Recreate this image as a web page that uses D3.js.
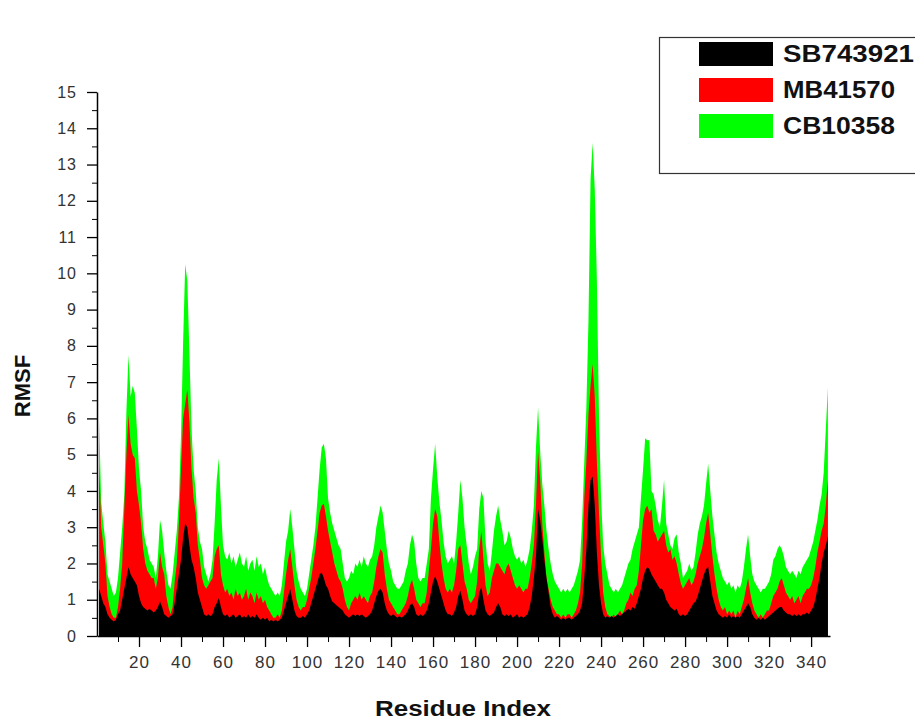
<!DOCTYPE html>
<html>
<head>
<meta charset="utf-8">
<script src="https://cdn.jsdelivr.net/npm/d3@7/dist/d3.min.js"></script>
<style>
  body { margin: 0; background: #fff; }
  #chart { width: 915px; height: 722px; }
</style>
</head>
<body>
<div id="chart"></div>
<script>
// --- 1. 数据：每个残基的 RMSF ---
const seriesNames = ["SB743921", "MB41570", "CB10358"];
const seriesColors = ["#000000", "#ff0000", "#00ff00"];

const sb743921 = [
  1.3,1.1,0.9,0.8,0.6,0.5,0.45,0.4,0.45,0.6,
  0.7,1.0,1.3,1.6,1.9,1.7,1.6,1.5,1.4,1.1,
  0.9,0.8,0.75,0.7,0.75,0.7,0.65,0.7,0.8,0.95,
  0.8,0.6,0.55,0.5,0.55,0.6,0.9,1.3,1.7,2.1,
  2.7,3.1,3.0,2.5,2.1,1.9,1.6,1.2,1.0,0.8,
  0.6,0.55,0.6,0.55,0.6,0.8,0.9,1.05,0.8,0.6,
  0.55,0.6,0.5,0.55,0.6,0.5,0.55,0.6,0.5,0.55,
  0.5,0.6,0.5,0.55,0.5,0.6,0.5,0.45,0.5,0.45,
  0.5,0.4,0.45,0.4,0.45,0.4,0.45,0.5,0.7,0.9,
  1.1,1.3,1.0,0.7,0.55,0.5,0.5,0.55,0.5,0.6,
  0.7,0.9,1.1,1.3,1.5,1.7,1.75,1.6,1.4,1.3,
  1.1,0.95,0.9,0.85,0.8,0.75,0.7,0.6,0.55,0.5,
  0.55,0.6,0.55,0.6,0.55,0.6,0.55,0.5,0.55,0.6,
  0.7,0.9,1.1,1.25,1.3,1.2,0.9,0.7,0.6,0.55,
  0.6,0.55,0.5,0.55,0.5,0.55,0.6,0.7,0.85,0.9,
  0.8,0.6,0.55,0.6,0.55,0.6,0.7,0.9,1.2,1.5,
  1.65,1.5,1.3,1.1,0.9,0.7,0.6,0.6,0.55,0.65,
  0.8,1.1,1.25,1.0,0.7,0.6,0.55,0.6,0.55,0.6,
  0.8,1.2,1.35,1.0,0.7,0.6,0.55,0.6,0.65,0.8,
  0.9,0.8,0.6,0.55,0.6,0.55,0.6,0.5,0.55,0.6,
  0.5,0.55,0.5,0.55,0.6,0.8,1.1,1.6,2.2,3.5,
  3.2,2.7,2.1,1.6,1.2,0.8,0.6,0.5,0.55,0.5,
  0.45,0.5,0.45,0.5,0.5,0.45,0.5,0.55,0.6,0.7,
  0.9,1.6,2.4,3.6,4.3,4.4,3.6,2.3,1.4,0.9,
  0.6,0.5,0.55,0.5,0.55,0.5,0.55,0.6,0.55,0.6,
  0.65,0.7,0.75,0.7,0.8,0.75,0.9,1.1,1.3,1.6,
  1.8,1.9,1.85,1.7,1.6,1.5,1.4,1.3,1.3,1.2,
  1.0,0.9,0.8,0.75,0.7,0.75,0.6,0.55,0.6,0.55,
  0.6,0.7,0.8,0.9,0.95,1.1,1.3,1.5,1.7,1.85,
  1.9,1.5,1.1,0.9,0.7,0.6,0.55,0.5,0.55,0.5,
  0.6,0.5,0.55,0.5,0.55,0.5,0.6,0.7,0.8,0.9,
  0.8,0.6,0.5,0.45,0.5,0.45,0.5,0.45,0.5,0.55,
  0.6,0.65,0.7,0.75,0.8,0.8,0.7,0.65,0.6,0.6,
  0.55,0.6,0.55,0.6,0.55,0.6,0.6,0.65,0.6,0.7,
  0.8,1.0,1.3,1.6,2.0,2.3,2.5,2.75
];

const mb41570 = [
  4.75,3.0,2.5,2.0,1.1,0.8,0.6,0.5,0.5,0.8,
  1.3,2.0,3.5,5.0,6.1,5.3,5.0,4.9,4.0,3.6,
  3.1,2.4,2.0,1.8,1.7,1.6,1.6,1.3,1.6,2.3,
  1.9,1.7,1.1,0.8,0.6,0.8,1.5,2.0,3.1,4.6,
  6.0,6.4,6.8,5.9,4.6,3.8,3.4,2.5,2.1,1.6,
  1.4,1.3,1.4,1.5,1.6,2.2,2.4,2.5,1.7,1.4,
  1.2,1.3,1.1,1.2,1.0,1.3,1.1,1.2,1.0,1.1,
  1.3,1.0,1.2,1.1,0.9,1.2,1.0,1.1,0.9,1.0,
  0.8,0.7,0.6,0.5,0.5,0.6,0.5,0.7,1.2,1.7,
  2.1,2.4,1.9,1.4,1.0,0.8,0.7,0.8,0.8,1.0,
  1.3,1.6,2.0,2.4,2.9,3.4,3.6,3.65,3.3,2.9,
  2.6,2.3,2.0,1.8,1.6,1.5,1.3,1.0,0.8,0.7,
  0.9,1.0,1.1,1.0,1.2,1.0,1.1,1.0,0.9,1.1,
  1.2,1.5,1.9,2.2,2.4,2.3,1.7,1.3,1.0,0.9,
  0.8,0.7,0.6,0.6,0.7,0.8,0.9,1.1,1.4,1.55,
  1.3,1.0,0.9,0.8,0.9,0.9,1.2,1.8,2.4,3.1,
  3.5,3.3,2.6,2.0,1.6,1.3,1.2,1.3,1.2,1.4,
  1.8,2.4,2.5,2.0,1.5,1.3,1.0,0.9,1.0,1.1,
  1.5,2.4,2.9,2.1,1.4,1.1,1.2,1.6,1.8,2.0,
  2.0,1.9,1.8,1.7,1.9,2.0,1.8,1.6,1.4,1.3,
  1.4,1.3,1.2,1.3,1.3,1.6,2.0,2.5,3.6,5.1,
  4.3,3.1,2.3,1.6,1.3,1.0,0.8,0.7,0.6,0.6,
  0.5,0.6,0.5,0.6,0.6,0.5,0.6,0.7,0.9,1.2,
  2.0,3.8,4.8,6.1,6.9,7.5,6.6,4.8,3.4,2.2,
  1.2,0.8,0.6,0.55,0.5,0.6,0.5,0.6,0.7,0.6,
  0.7,0.9,1.0,1.2,1.1,1.3,1.4,1.8,2.5,3.2,
  3.5,3.6,3.4,3.5,2.9,2.8,2.6,2.7,2.8,2.9,
  2.5,2.3,2.4,2.1,2.2,2.0,1.7,1.45,1.3,1.4,
  1.5,1.6,1.4,1.5,1.7,2.0,2.2,2.4,2.7,3.1,
  3.4,2.8,2.2,1.7,1.3,1.0,0.8,0.7,0.8,0.6,
  0.7,0.6,0.7,0.5,0.7,0.6,0.8,1.0,1.3,1.6,
  1.2,0.9,0.7,0.6,0.5,0.6,0.5,0.6,0.7,0.7,
  0.9,1.1,1.2,1.3,1.5,1.6,1.4,1.2,1.1,1.0,
  1.1,0.9,1.0,1.1,0.9,1.1,1.2,1.3,1.3,1.4,
  1.6,1.9,2.3,2.6,2.9,3.1,3.6,4.3
];

const cb10358 = [
  6.0,3.7,3.1,2.6,1.7,1.5,1.3,1.1,1.2,1.6,
  2.3,3.0,3.9,6.2,7.75,6.6,6.9,6.7,5.7,4.6,
  4.0,3.0,2.6,2.4,2.1,2.0,1.9,1.6,2.2,3.2,
  2.9,2.3,1.8,1.4,1.3,1.7,2.3,2.9,3.8,5.5,
  8.1,10.25,9.8,7.8,5.7,4.6,4.0,3.0,2.6,2.4,
  1.9,1.7,1.5,1.7,2.1,3.1,4.3,4.9,3.6,2.5,
  2.2,2.1,2.3,2.0,2.2,1.9,2.1,2.3,2.0,1.9,
  2.2,1.8,2.0,2.1,1.8,2.2,1.9,2.0,1.7,1.9,
  1.6,1.4,1.3,1.2,1.1,1.2,1.1,1.4,2.0,2.6,
  2.9,3.5,3.0,2.4,1.8,1.5,1.3,1.2,1.1,1.3,
  1.7,2.1,2.5,3.0,3.8,4.6,5.2,5.3,4.9,3.8,
  3.4,3.1,2.9,2.7,2.5,2.4,2.0,1.6,1.5,1.6,
  1.8,1.7,2.0,1.9,2.1,1.9,2.2,2.0,1.9,2.1,
  2.2,2.5,3.0,3.3,3.6,3.4,2.9,2.4,2.0,1.8,
  1.5,1.4,1.3,1.3,1.4,1.5,1.8,2.0,2.5,2.8,
  2.6,2.0,1.6,1.5,1.6,1.6,2.0,2.4,3.8,4.6,
  5.3,4.4,3.7,3.2,2.6,2.2,2.0,2.1,2.2,2.0,
  2.6,3.4,4.3,3.8,3.0,2.5,2.0,1.7,1.9,2.2,
  2.4,3.5,4.0,3.8,2.6,2.0,1.8,2.3,2.9,3.3,
  3.6,3.2,2.9,2.5,2.6,2.9,2.7,2.4,2.2,2.1,
  2.2,2.0,2.1,1.9,2.1,2.4,2.9,3.6,5.2,6.3,
  5.1,4.2,3.6,2.9,2.4,2.0,1.7,1.5,1.4,1.3,
  1.2,1.3,1.2,1.3,1.2,1.3,1.4,1.6,1.8,2.1,
  3.2,4.8,6.3,8.7,12.6,13.6,12.3,9.8,6.1,3.8,
  2.5,2.0,1.7,1.4,1.3,1.2,1.3,1.2,1.3,1.4,
  1.6,1.8,2.0,2.1,2.4,2.6,2.8,3.0,3.8,4.6,
  5.45,5.4,5.4,4.0,3.9,3.6,3.2,3.0,3.6,4.3,
  3.1,2.8,2.5,2.4,2.7,2.8,2.3,2.0,1.6,1.7,
  1.8,2.0,1.8,1.9,2.3,2.8,3.1,3.3,3.6,4.2,
  4.75,4.0,3.3,2.8,2.3,2.0,1.8,1.6,1.5,1.4,
  1.5,1.3,1.4,1.2,1.4,1.3,1.5,1.9,2.4,2.8,
  2.2,1.7,1.5,1.4,1.3,1.2,1.3,1.3,1.4,1.5,
  1.7,2.1,2.2,2.4,2.5,2.4,2.2,1.9,1.8,1.7,
  1.8,1.7,1.6,1.8,1.7,1.9,2.0,2.1,2.2,2.4,
  2.6,2.9,3.2,3.6,3.9,4.5,5.7,6.85
];

// 残基编号从 1 开始
const residues = sb743921.map((d, i) => i + 1);

// 坐标轴刻度
const yMajorTicks = d3.range(0, 16, 1);
const yMinorTicks = d3.range(0.5, 15, 1);
const xMajorTicks = d3.range(20, 341, 20);
const xMinorTicks = d3.range(10, 331, 20);

// --- 2. 画布 ---
const width = 915, height = 722;
const svg = d3.select("#chart").append("svg")
  .attr("width", width)
  .attr("height", height)
  .attr("viewBox", `0 0 ${width} ${height}`)
  .style("background-color", "#ffffff");

const x = d3.scaleLinear().domain([0, 349]).range([97, 830]);
const y = d3.scaleLinear().domain([0, 15]).range([636, 92]);

// --- 3. 面积图：绿色在最后面，黑色在最前面 ---
const area = d3.area()
  .x((d, i) => x(residues[i]))
  .y0(y(0))
  .y1(d => y(d));

const layers = [
  { values: cb10358, color: seriesColors[2] },
  { values: mb41570, color: seriesColors[1] },
  { values: sb743921, color: seriesColors[0] }
];

svg.append("g").attr("class", "areas")
  .selectAll("path")
  .data(layers)
  .join("path")
  .attr("fill", d => d.color)
  .attr("d", d => area(d.values));

// --- 4. 坐标轴 ---
const tickFont = "Arial, 'Liberation Sans', sans-serif";

// Y 轴：次刻度
svg.append("g")
  .attr("transform", `translate(${x(0)},0)`)
  .call(d3.axisLeft(y).tickValues(yMinorTicks).tickSize(5).tickFormat(""))
  .call(g => g.select(".domain").remove());

// Y 轴：主刻度
const yAxisG = svg.append("g")
  .attr("transform", `translate(${x(0)},0)`)
  .call(d3.axisLeft(y).tickValues(yMajorTicks).tickSize(10).tickSizeOuter(0).tickPadding(10));
yAxisG.select(".domain").attr("stroke-width", 1.5);
yAxisG.selectAll(".tick line").attr("stroke-width", 1.3);
yAxisG.selectAll(".tick text")
  .attr("font-family", tickFont)
  .attr("font-size", 16)
  .attr("fill", "#333")
  .attr("letter-spacing", 1);

// X 轴：次刻度
svg.append("g")
  .attr("transform", `translate(0,${y(0)})`)
  .call(d3.axisBottom(x).tickValues(xMinorTicks).tickSize(6).tickFormat(""))
  .call(g => g.select(".domain").remove());

// X 轴：主刻度
const xAxisG = svg.append("g")
  .attr("transform", `translate(0,${y(0)})`)
  .call(d3.axisBottom(x).tickValues(xMajorTicks).tickSize(11).tickSizeOuter(0).tickPadding(9));
xAxisG.select(".domain").attr("stroke-width", 1.5);
xAxisG.selectAll(".tick line").attr("stroke-width", 1.3);
xAxisG.selectAll(".tick text")
  .attr("font-family", tickFont)
  .attr("font-size", 17)
  .attr("fill", "#333")
  .attr("letter-spacing", 1);

// 坐标轴标题
svg.append("text")
  .attr("transform", `translate(30,386) rotate(-90)`)
  .attr("text-anchor", "middle")
  .attr("font-family", tickFont)
  .attr("font-weight", "bold")
  .attr("font-size", 22)
  .attr("fill", "#111")
  .text("RMSF");

svg.append("text")
  .attr("x", 463)
  .attr("y", 716)
  .attr("text-anchor", "middle")
  .attr("font-family", tickFont)
  .attr("font-weight", "bold")
  .attr("font-size", 22)
  .attr("fill", "#111")
  .attr("textLength", 176)
  .attr("lengthAdjust", "spacingAndGlyphs")
  .text("Residue Index");

// --- 5. 图例 ---
const legend = svg.append("g").attr("class", "legend");
legend.append("rect")
  .attr("x", 659.5).attr("y", 37.5)
  .attr("width", 280).attr("height", 136)
  .attr("fill", "#fff")
  .attr("stroke", "#333")
  .attr("stroke-width", 1.2);

const legendItems = legend.selectAll("g.item")
  .data(seriesNames)
  .join("g")
  .attr("class", "item")
  .attr("transform", (d, i) => `translate(699,${42 + i * 36})`);

legendItems.append("rect")
  .attr("width", 74)
  .attr("height", 24)
  .attr("fill", (d, i) => seriesColors[i]);

legendItems.append("text")
  .attr("x", 84)
  .attr("y", 20)
  .attr("font-family", tickFont)
  .attr("font-weight", "bold")
  .attr("font-size", 23)
  .attr("fill", "#111")
  .attr("textLength", (d, i) => i === 0 ? 131 : 112)
  .attr("lengthAdjust", "spacingAndGlyphs")
  .text(d => d);
</script>
</body>
</html>
